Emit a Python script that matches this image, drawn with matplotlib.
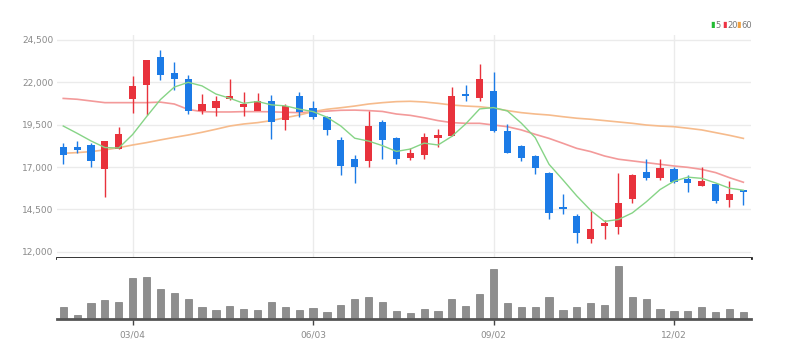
import matplotlib
matplotlib.use("Agg")
import matplotlib.pyplot as plt
import numpy as np
import pandas as pd

plt.rcParams['font.family'] = ['Liberation Sans Narrow', 'DejaVu Sans']

# weekly candles (KRW)
opens = [18150, 18150, 18300, 16900, 18100, 21050, 21850, 23500, 22550, 22200,
         20350, 20500, 21050, 20550, 20350, 20900, 19800, 21150, 20450, 19950,
         18600, 17450, 17400, 19650, 18700, 17550, 17750, 18750, 18850, 21300,
         21100, 21450, 19100, 18200, 17650, 16650, 14600, 14100, 12750, 13550,
         13500, 15150, 16700, 16400, 16850, 16250, 15900, 15950, 15050, 15600]
highs = [18400, 18550, 18400, 18500, 19350, 22400, 23300, 23900, 23200, 22450,
         21300, 21200, 22200, 21450, 21350, 21250, 20700, 21450, 20900, 20000,
         18800, 17700, 20300, 19800, 18750, 18100, 19000, 19250, 21750, 21850,
         23100, 22600, 19550, 18300, 17700, 16700, 15400, 14250, 14400, 13850,
         16650, 16600, 17500, 17500, 17000, 16500, 17000, 16000, 16200, 15600]
lows = [17200, 17800, 17000, 15250, 18050, 20200, 20050, 22150, 21550, 20150,
        20150, 20000, 20950, 20000, 20350, 18650, 19200, 19950, 19850, 18900,
        16500, 16050, 17000, 17450, 17200, 17400, 17450, 18200, 18850, 20900,
        20900, 19050, 17850, 17350, 16600, 13950, 14250, 12500, 12500, 12750,
        13050, 14850, 16250, 16250, 16050, 15500, 15850, 14900, 14650, 14750]
closes = [17750, 18050, 17400, 18500, 18900, 21750, 23300, 22450, 22200, 20300,
          20700, 20900, 21200, 20700, 20850, 19700, 20600, 20250, 19950, 19200,
          17100, 17000, 19400, 18600, 17500, 17800, 18750, 18850, 21150, 21200,
          22200, 19150, 17850, 17550, 16950, 14300, 14550, 13100, 13300, 13700,
          14850, 16500, 16350, 16950, 16150, 16050, 16150, 15000, 15400, 15550]
prior_closes = [20200, 19650, 20450, 19050]   # weeks before the window, for MA5

ma20 = [21050, 21000, 20900, 20800, 20800, 20800, 20800, 20830, 20720, 20400,
        20270, 20250, 20250, 20270, 20270, 20260, 20230, 20210, 20250, 20300,
        20350, 20360, 20330, 20280, 20130, 20050, 19910, 19740, 19620, 19580,
        19580, 19480, 19380, 19190, 18930, 18690, 18400, 18100, 17910, 17650,
        17460, 17360, 17260, 17160, 17060, 16980, 16860, 16670, 16370, 16100]
ma60 = [17810, 17850, 17910, 18010, 18140, 18300, 18440, 18600, 18750, 18890,
        19050, 19230, 19420, 19540, 19620, 19740, 19910, 20070, 20270, 20410,
        20500, 20600, 20720, 20800, 20860, 20880, 20840, 20760, 20660, 20600,
        20560, 20470, 20330, 20210, 20130, 20070, 19970, 19880, 19820, 19740,
        19660, 19580, 19480, 19420, 19380, 19290, 19190, 19030, 18870, 18690]

volume = [360, 130, 480, 570, 510, 1240, 1260, 910, 800, 600,
          380, 280, 410, 320, 280, 510, 370, 280, 330, 210,
          430, 600, 680, 510, 260, 180, 320, 260, 610, 390,
          770, 1500, 480, 380, 380, 660, 280, 380, 480, 420,
          1600, 660, 600, 310, 250, 260, 370, 230, 310, 230]

tick_idx = [5, 18, 31, 44]
tick_labels = ["03/04", "06/03", "09/02", "12/02"]
price_ticks = [12000, 14500, 17000, 19500, 22000, 24500]

RED = '#e8323c'
BLUE = '#1c7be6'

n = len(closes)
x = np.arange(n)
o = np.array(opens); c = np.array(closes)
h = np.array(highs); l = np.array(lows)
ma5 = pd.Series(prior_closes + closes).rolling(5).mean().values[len(prior_closes):]

fig = plt.figure(figsize=(7.86, 3.59), dpi=100)
ax = fig.add_axes([57/786, 1-258.3/359, 694/786, 223.3/359])
axv = fig.add_axes([57/786, 1-319.3/359, 694/786, 61/359])

# price panel
up = c >= o
cols = np.where(up, RED, BLUE)
ax.vlines(x, l, h, colors=cols, lw=1, zorder=3)
ax.bar(x, np.abs(c - o) + 40, bottom=np.minimum(o, c) - 20, width=0.52,
       color=cols, zorder=4)
ax.plot(x, ma5, color='#86d486', lw=1, zorder=5)
ax.plot(x, ma20, color='#f39a9a', lw=1.2, zorder=2)
ax.plot(x, ma60, color='#f6bb8c', lw=1.2, zorder=2)

ax.set_xlim(-0.45, n - 0.45)
ax.set_ylim(11609, 24795)
ax.set_yticks(price_ticks)
ax.set_yticklabels([f"{v:,}" for v in price_ticks])
ax.set_xticks(tick_idx)
ax.tick_params(axis='x', length=0, labelbottom=False)
ax.tick_params(axis='y', length=0, pad=2.5, labelsize=6.5, labelcolor='#8a8a8a')
ax.grid(True, color='#ebebeb', lw=1)
ax.set_axisbelow(True)
for s in ['top', 'left', 'right']:
    ax.spines[s].set_visible(False)
ax.spines['bottom'].set_color('#222222')
ax.spines['bottom'].set_linewidth(2)

# volume panel
axv.bar(x, volume, width=0.52, color='#8e8e8e', edgecolor='#7a7a7a', lw=0.5)
axv.set_xlim(-0.45, n - 0.45)
axv.set_ylim(0, max(volume) * 1.145)
axv.set_yticks([])
axv.set_xticks(tick_idx)
axv.set_xticklabels(tick_labels)
axv.tick_params(axis='x', length=4, width=1, color='#444444', pad=4,
                labelsize=6.5, labelcolor='#8a8a8a')
for s in ['top', 'left', 'right']:
    axv.spines[s].set_visible(False)
axv.spines['bottom'].set_color('#555555')
axv.spines['bottom'].set_linewidth(2)

# MA legend, top right
ly = 1 - 25/359
for xp, col, lab in [(710, '#22bb33', '5'), (722, '#ee3344', '20'), (736, '#f0a040', '60')]:
    fig.text(xp/786, ly, '\u25ae', color=col, fontsize=6, va='center', ha='left',
             family='DejaVu Sans')
    fig.text((xp + 5)/786, ly, lab, color='#777777', fontsize=6, va='center', ha='left')

fig.savefig('out.png', dpi=100)
